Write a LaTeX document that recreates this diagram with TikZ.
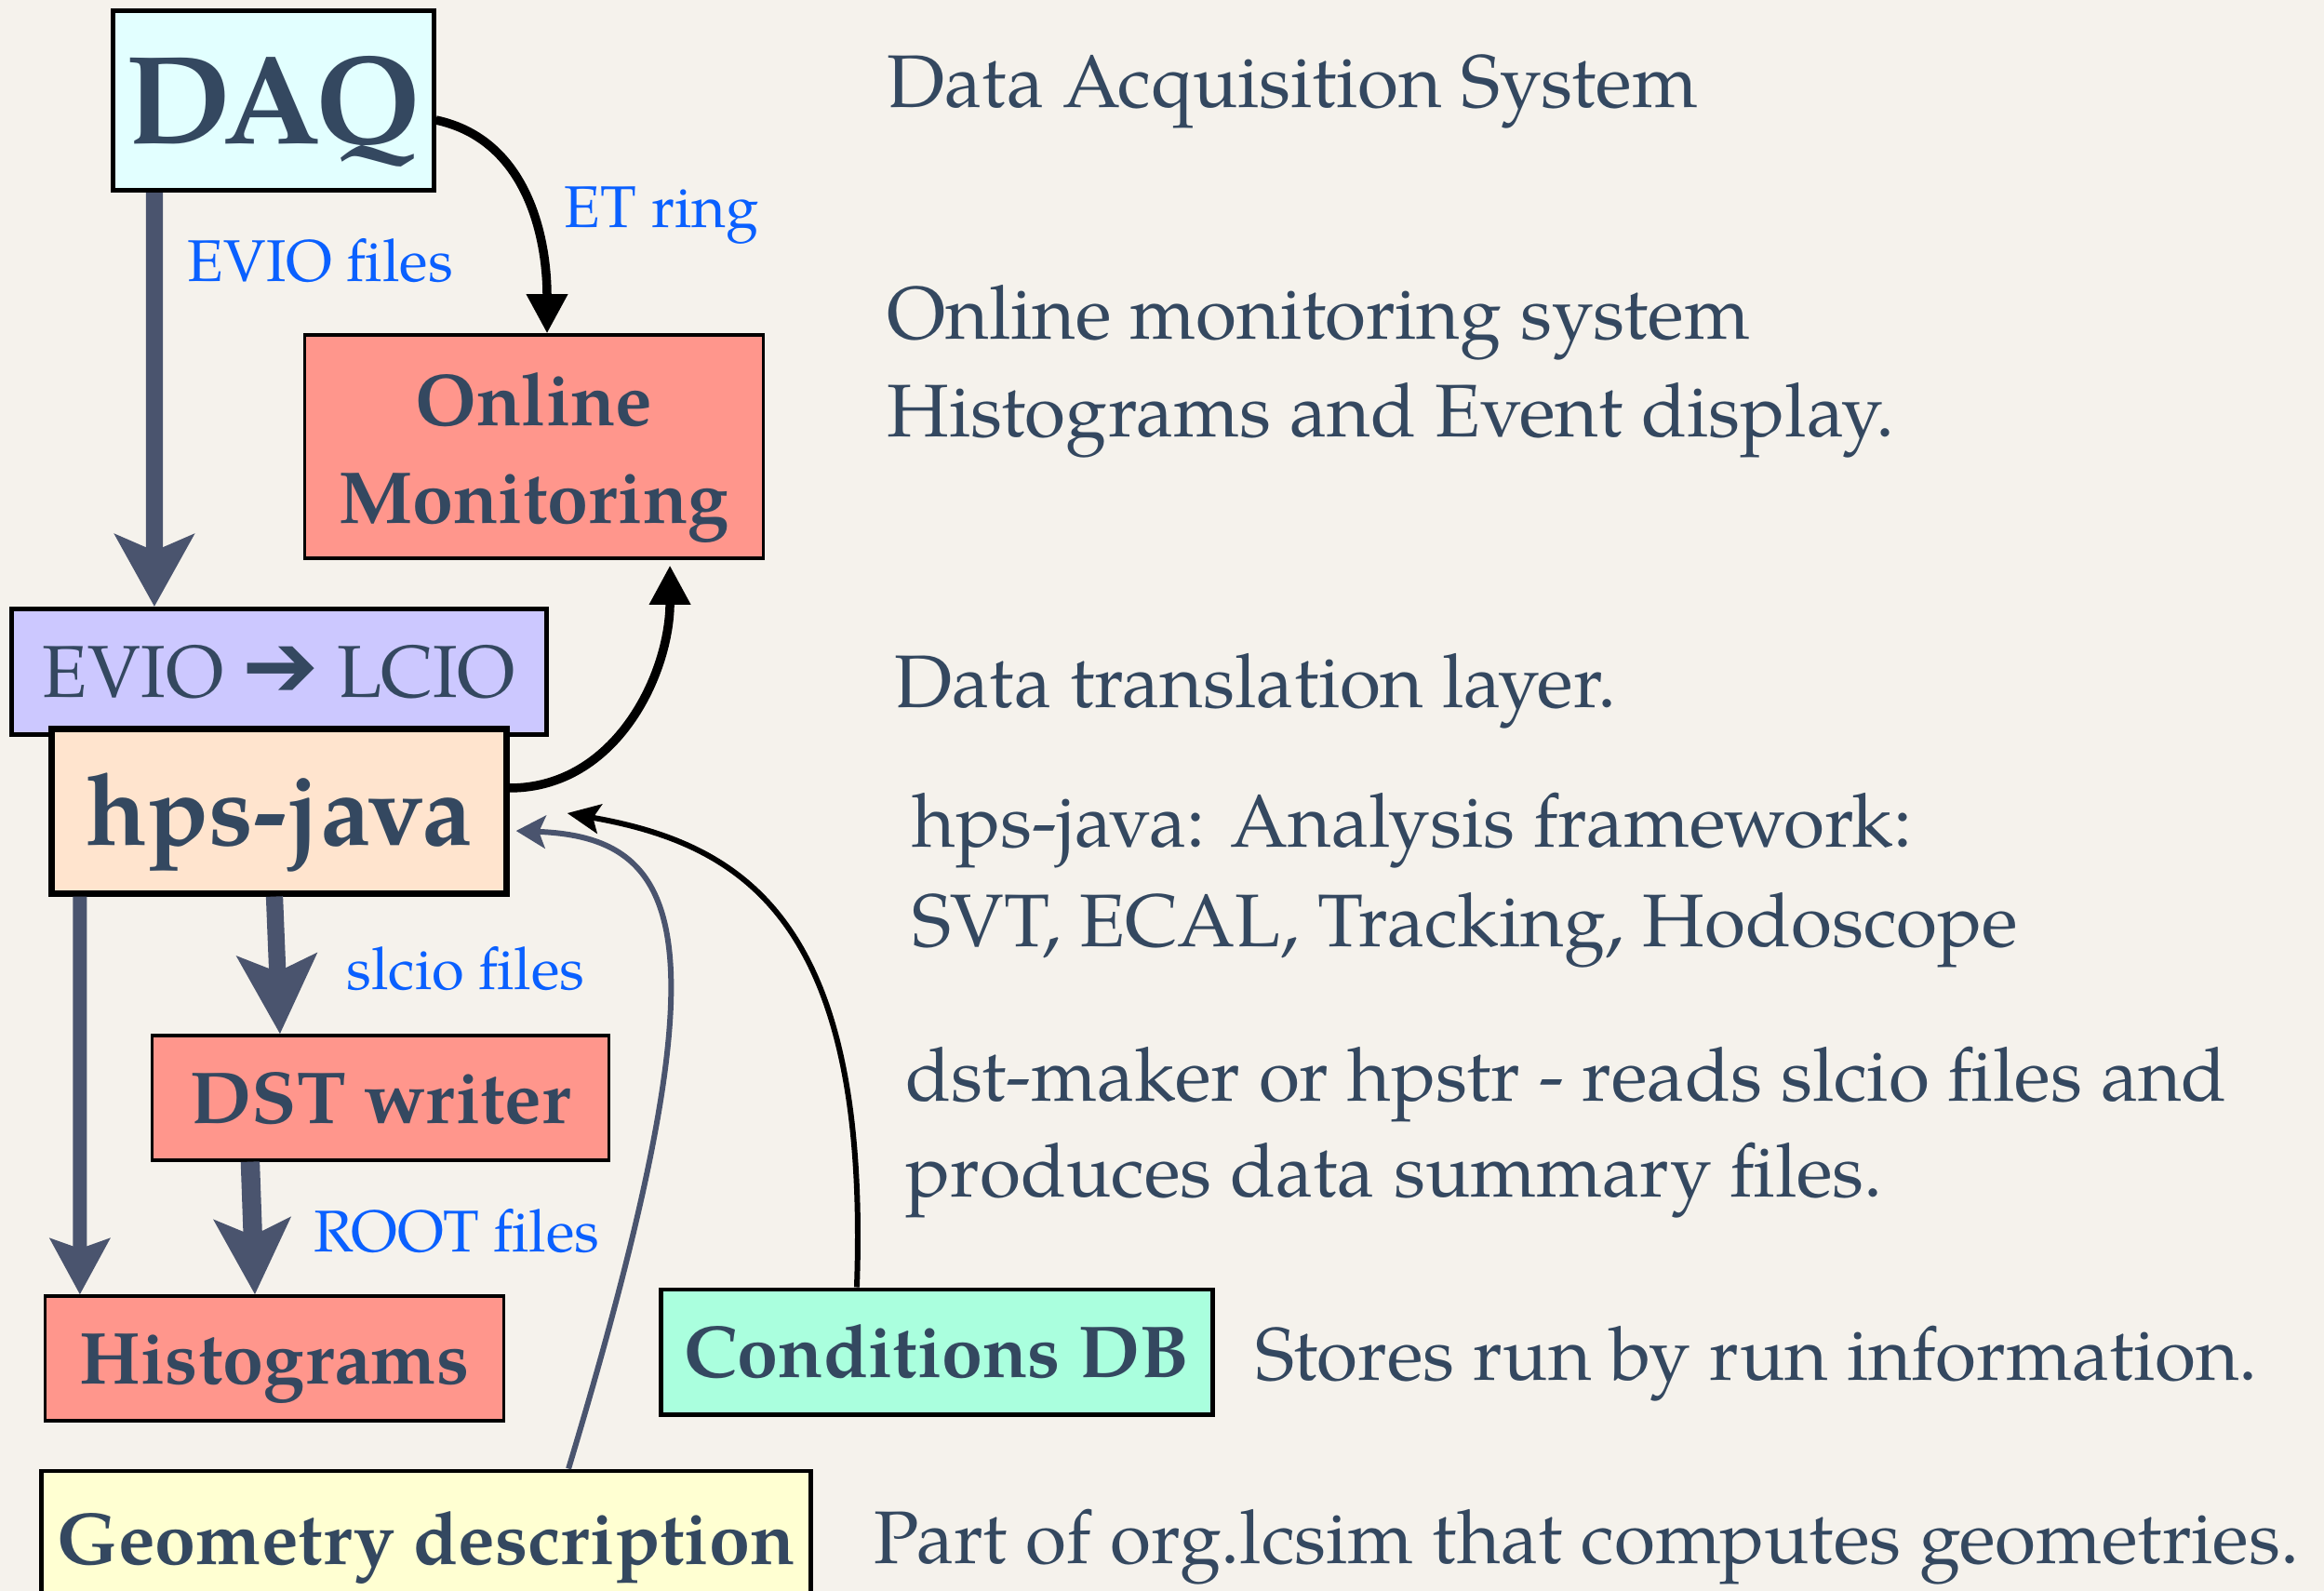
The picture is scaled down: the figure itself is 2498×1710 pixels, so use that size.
\documentclass[tikz,border=0pt]{standalone}
\usepackage{fontspec}
\setmainfont{TeX Gyre Pagella}
\newfontfamily\dingfont{DejaVu Sans}
\usepackage{tikz}
\usetikzlibrary{arrows.meta}
\usetikzlibrary{calc}

\definecolor{inkblue}{RGB}{52,72,96}
\definecolor{labelblue}{RGB}{10,96,255}
\definecolor{pipegray}{RGB}{74,84,110}
\definecolor{paper}{RGB}{245,242,236}
\definecolor{daqfill}{RGB}{226,255,255}
\definecolor{salmon}{RGB}{255,150,140}
\definecolor{lavender}{RGB}{204,200,255}
\definecolor{peach}{RGB}{255,228,206}
\definecolor{mint}{RGB}{170,255,222}
\definecolor{cream}{RGB}{255,255,210}

\begin{document}
\begin{tikzpicture}
[x=0.01cm,y=-0.01cm,
  boxdecorate/.style={shape=rectangle,draw,line width=1.4pt,inner sep=0pt,
    text=inkblue,text height=15.5pt,text depth=0pt,
    font=\fontsize{22.5}{30}\selectfont\bfseries},
  notedecorate/.style={anchor=base west,inner sep=0pt,text=inkblue,
    font=\fontsize{22.8}{27}\selectfont},
  labeldecorate/.style={anchor=base west,inner sep=0pt,text=labelblue,
    font=\fontsize{18}{22}\selectfont},
  pipedecorate/.style={draw=pipegray,line width=5.2pt,
    -{Stealth[length=22pt,width=24pt,inset=5pt]}},
  wiredecorate/.style={draw=black,line width=2.7pt,
    -{Triangle[length=12pt,width=12pt]}}]
%% background and page size
\path[use as bounding box,fill=paper] (0,0) rectangle (2498,1710);
%% boxes
\node (daq) at (294,108) [boxdecorate,fill=daqfill,minimum width=3.44cm,
  minimum height=1.93cm,text height=26.6pt,font=\fontsize{38.5}{42}\selectfont\bfseries] {DAQ};
\node (online) at (574,480) [boxdecorate,fill=salmon,line width=0.9pt,
  minimum width=4.92cm,minimum height=2.40cm,text height=47pt,align=center]
  {Online\\Monitoring};
\node (evio) at (300,722) [boxdecorate,fill=lavender,minimum width=5.74cm,
  minimum height=1.35cm,font=\fontsize{22.5}{27}\selectfont]
  {EVIO {\dingfont\fontsize{28}{30}\selectfont ➔} LCIO};
\node (hps) at (300,872) [boxdecorate,fill=peach,line width=2pt,
  minimum width=4.88cm,minimum height=1.76cm,text height=21pt,
  font=\fontsize{30.7}{34}\selectfont\bfseries] {hps-java};
\node (dst) at (409,1180) [boxdecorate,fill=salmon,line width=0.9pt,
  minimum width=4.91cm,minimum height=1.34cm] {DST writer};
\node (histo) at (295,1460) [boxdecorate,fill=salmon,line width=0.9pt,
  minimum width=4.92cm,minimum height=1.34cm] {Histograms};
\node (cond) at (1007,1453) [boxdecorate,fill=mint,
  minimum width=5.93cm,minimum height=1.34cm] {Conditions DB};
\node (geom) at (458,1654) [boxdecorate,fill=cream,
  minimum width=8.27cm,minimum height=1.46cm] {Geometry description};
%% file labels on the arrows
\foreach \name/\x/\y/\txt in {evio-files/201/303/{EVIO files},
  et-ring/606/245/{ET ring}, slcio-files/372/1063/{slcio files},
  root-files/337/1345/{ROOT files}}
{
  \node (\name) at (\x,\y) [labeldecorate] {\txt};
}
%% notes on the right
\foreach \x/\y/\note [count=\i] in {953/116/{Data Acquisition System},
  953/365/{Online monitoring system}, 953/470/{Histograms and Event display.},
  961/761/{Data translation layer.}, 980/910/{hps-java: Analysis framework:},
  980/1017/{SVT, ECAL, Tracking, Hodoscope},
  973/1183/{dst-maker or hpstr - reads slcio files and},
  973/1286/{produces data summary files.},
  1349/1483/{Stores run by run information.},
  939/1680/{Part of org.lcsim that computes geometries.}}
{
  \node (note\i) at (\x,\y) [notedecorate] {\note};
}
%% data flow
\draw[pipedecorate] ([xshift=-1.28cm]daq.south) -- ([xshift=-1.34cm]evio.north);
\draw[pipedecorate,line width=4.3pt,-{Stealth[length=17pt,width=18pt,inset=3pt]}]
  ([xshift=-2.14cm]hps.south) -- ([xshift=-2.09cm]histo.north);
\draw[pipedecorate,-{Stealth[length=24pt,width=24pt,inset=5pt]}]
  ([xshift=-0.05cm]hps.south) -- ([xshift=-1.08cm]dst.north);
\draw[pipedecorate,line width=5.8pt,-{Stealth[length=23pt,width=23pt,inset=5pt]}]
  ([xshift=-1.40cm]dst.south) -- ([xshift=-0.21cm]histo.north);
\draw[wiredecorate] ([yshift=-0.21cm]daq.east) to[out=-12,in=90]
  ([xshift=0.14cm]online.north);
\draw[wiredecorate] ([yshift=0.25cm]hps.east) to[out=0,in=-90]
  ([xshift=1.46cm,yshift=-0.06cm]online.south);
\draw[wiredecorate,line width=1.7pt,-{Stealth[length=10pt,width=9pt,inset=2pt]}]
  ([xshift=-0.86cm]cond.north) .. controls +(14,-389) and +(194,34) ..
  ([xshift=0.62cm,yshift=-0.02cm]hps.east);
\draw[wiredecorate,draw=pipegray,line width=1.7pt,
  -{Stealth[length=9pt,width=10pt,inset=2pt]}]
  ([xshift=1.53cm]geom.north) .. controls +(169,-561) and +(189,7) ..
  ([xshift=0.07cm,yshift=-0.21cm]hps.east);
\end{tikzpicture}
\end{document}
